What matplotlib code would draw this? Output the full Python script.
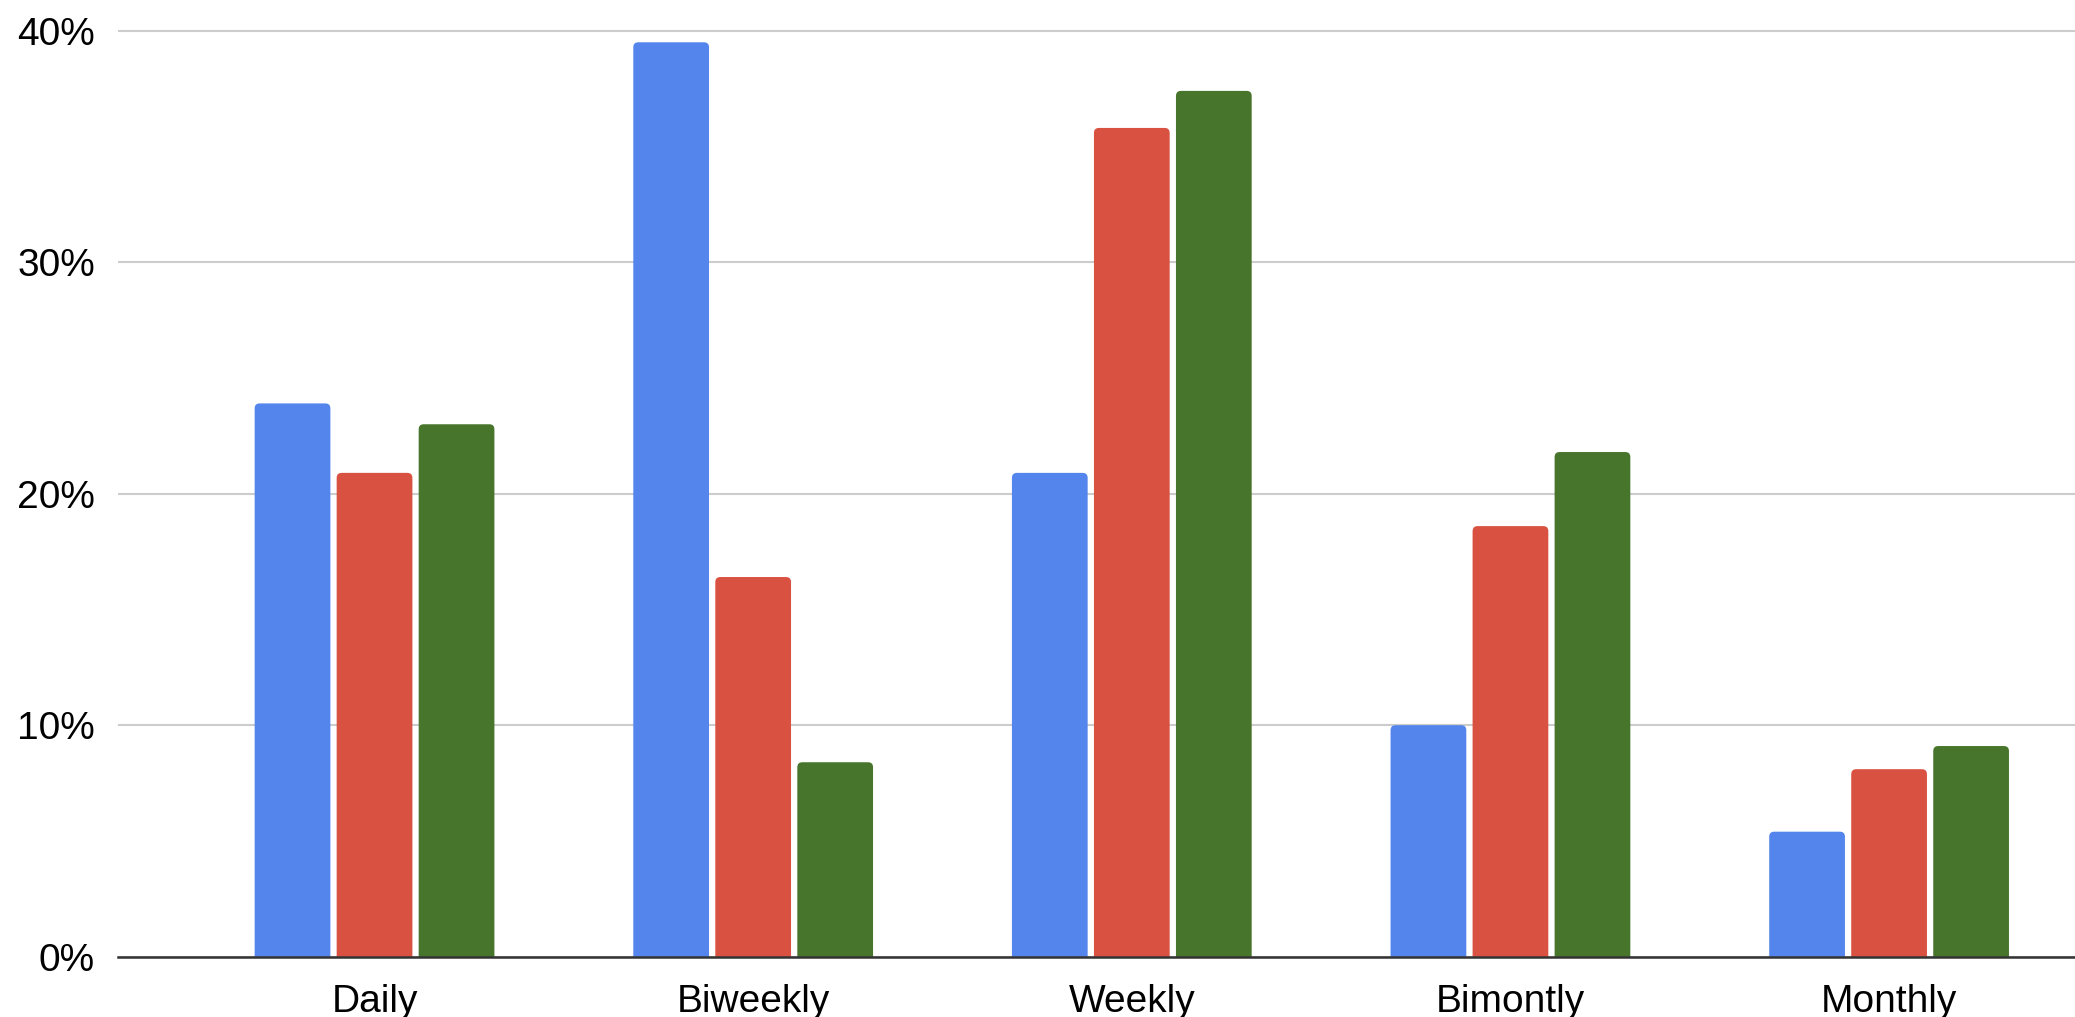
import matplotlib
matplotlib.use("Agg")
import matplotlib.pyplot as plt
from matplotlib.patches import FancyBboxPatch
import numpy as np

# Survey results: share of respondents per frequency, three groups
categories = ["Daily", "Biweekly", "Weekly", "Bimontly", "Monthly"]
series_a = [23.9, 39.5, 20.9, 10.0, 5.4]
series_b = [20.9, 16.4, 35.8, 18.6, 8.1]
series_c = [23.0, 8.4, 37.4, 21.8, 9.1]
y_ticks = [0, 10, 20, 30, 40]

colors = ["#5385EC", "#D95140", "#48752C"]

plt.rcParams["font.family"] = ["Liberation Sans", "DejaVu Sans"]

W, H, DPI = 2075, 1017, 100
fig = plt.figure(figsize=(W / DPI, H / DPI), dpi=DPI)

y_max = 41.0
x_lo, x_hi = -0.6775, 4.491
ax_left_px, ax_zero_px, px_per_unit = 118, 956.7, 23.15
ax_h_px = y_max * px_per_unit
ax = fig.add_axes([ax_left_px / W, (H - ax_zero_px) / H,
                   1 - ax_left_px / W, ax_h_px / H])
ax.set_xlim(x_lo, x_hi)
ax.set_ylim(0, y_max)

x = np.arange(len(categories))
step = 0.2166
width = 0.2

# px per data unit on each axis, used to keep corner rounding circular
px_per_x = (W - ax_left_px) / (x_hi - x_lo)
aspect = px_per_x / px_per_unit
radius = 5.0 / px_per_x

for i, (vals, col) in enumerate(zip([series_a, series_b, series_c], colors)):
    bars = ax.bar(x + (i - 1) * step, vals, width=width, color=col, zorder=2)
    for rect in bars:
        rect.set_visible(False)
        bx, bw, bh = rect.get_x(), rect.get_width(), rect.get_height()
        # rounded top; base extends below zero and is clipped by the axes
        patch = FancyBboxPatch((bx, -1.0), bw, bh + 1.0,
                               boxstyle=f"round,pad=0,rounding_size={radius}",
                               mutation_aspect=aspect,
                               facecolor=col, edgecolor="none", zorder=2)
        ax.add_patch(patch)

ax.set_yticks(y_ticks)
ax.set_yticklabels([f"{t}%" for t in y_ticks])
ax.set_xticks(x)
ax.set_xticklabels(categories)

ax.grid(axis="y", color="#CCCCCC", linewidth=1.5, zorder=1)
ax.set_axisbelow(True)

for side in ["top", "right", "left"]:
    ax.spines[side].set_visible(False)
ax.spines["bottom"].set_color("#333333")
ax.spines["bottom"].set_linewidth(1.8)
ax.spines["bottom"].set_zorder(3)

ax.tick_params(axis="y", length=0, pad=16.5, labelsize=28, labelcolor="#000000")
ax.tick_params(axis="x", length=0, pad=20, labelsize=28, labelcolor="#000000")

fig.savefig("out.png", dpi=DPI, facecolor="white")
